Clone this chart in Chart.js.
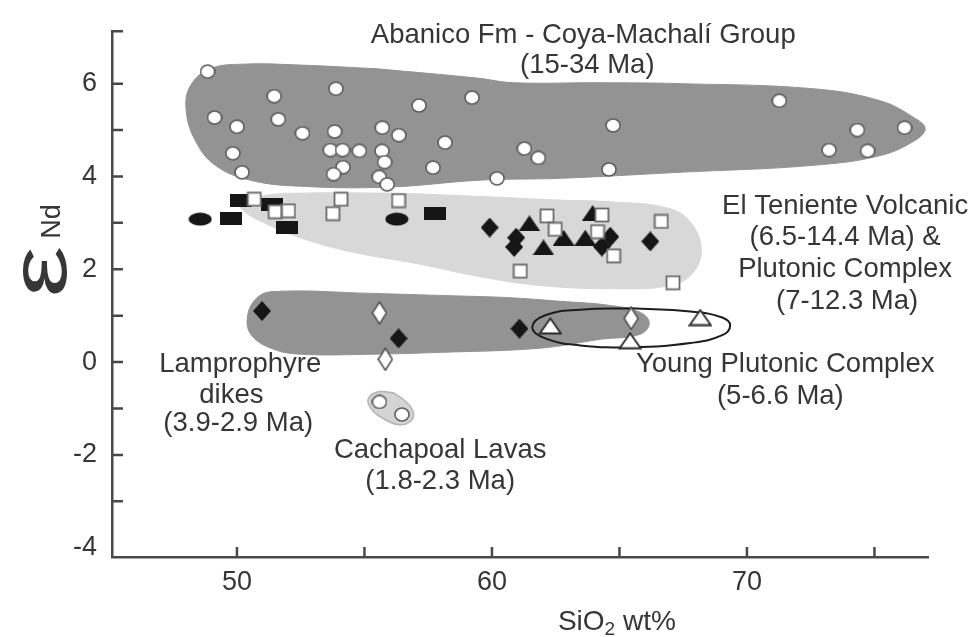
<!DOCTYPE html>
<html>
<head>
<meta charset="utf-8">
<script src="https://cdn.jsdelivr.net/npm/chart.js@4.4.1/dist/chart.umd.min.js"></script>
<style>
  html, body { margin: 0; padding: 0; background: #fff; }
</style>
</head>
<body>
<canvas id="chart" width="973" height="637"></canvas>
<script>
// samples: SiO2 (wt%) vs eNd
const abanicoSiO2  = [48.85, 51.46, 53.88, 57.14, 59.22, 49.12, 50.00, 51.62, 52.57, 53.83, 55.70, 56.35, 58.16, 49.84, 53.66, 54.14, 54.80, 55.69, 55.79, 50.20, 54.16, 53.79, 55.58, 55.89, 57.69, 60.20, 71.27, 64.75, 61.27, 61.82, 64.59, 74.33, 76.18, 73.22, 74.73];
const abanicoEpsNd = [6.26, 5.73, 5.89, 5.53, 5.70, 5.27, 5.07, 5.23, 4.93, 4.97, 5.05, 4.89, 4.73, 4.50, 4.57, 4.57, 4.55, 4.55, 4.31, 4.09, 4.20, 4.05, 3.99, 3.83, 4.19, 3.96, 5.63, 5.10, 4.60, 4.40, 4.15, 5.00, 5.05, 4.57, 4.55];

const ovalSiO2  = [48.56, 56.27];
const ovalEpsNd = [3.08, 3.08];

const rectSiO2  = [50.16, 49.76, 51.36, 51.96, 57.78];
const rectEpsNd = [3.48, 3.10, 3.39, 2.90, 3.21];

const squareSiO2  = [50.68, 51.50, 52.02, 54.08, 53.76, 56.34, 61.11, 62.16, 62.48, 64.31, 64.14, 64.77, 66.64, 67.10];
const squareEpsNd = [3.51, 3.24, 3.26, 3.51, 3.20, 3.48, 1.96, 3.15, 2.86, 3.17, 2.81, 2.29, 3.03, 1.71];

const diamondSiO2  = [59.91, 60.95, 60.87, 64.64, 64.31, 66.21, 50.98, 56.34, 61.08];
const diamondEpsNd = [2.90, 2.68, 2.48, 2.70, 2.49, 2.60, 1.10, 0.51, 0.72];

const triangleSiO2  = [61.47, 62.02, 62.81, 63.66, 63.95];
const triangleEpsNd = [2.99, 2.47, 2.68, 2.68, 3.21];

const openDiamondSiO2  = [55.59, 55.82, 65.46];
const openDiamondEpsNd = [1.06, 0.06, 0.94];

const openTriangleSiO2  = [62.29, 68.17, 65.42];
const openTriangleEpsNd = [0.78, 0.96, 0.46];

const cachapoalSiO2  = [55.59, 56.47];
const cachapoalEpsNd = [-0.86, -1.13];

// field outlines (closed)
const abanicoFieldX = [55.50, 59.42, 60.84, 64.25, 67.38, 72.60, 75.23, 76.60, 76.99, 76.60, 75.23, 72.60, 67.38, 62.68, 59.54, 55.89, 52.48, 50.52, 49.15, 48.36, 48.01, 48.17, 48.95, 50.25, 52.48, 55.50];
const abanicoFieldY = [6.32, 6.12, 6.02, 6.02, 6.00, 5.89, 5.63, 5.25, 5.03, 4.78, 4.45, 4.24, 4.09, 3.96, 3.92, 3.77, 3.79, 3.92, 4.24, 4.78, 5.42, 5.95, 6.32, 6.42, 6.40, 6.32];

const tenienteFieldX = [56.40, 60.33, 62.68, 64.76, 66.88, 67.78, 68.21, 67.86, 66.99, 64.76, 61.89, 59.54, 57.07, 54.44, 52.48, 50.99, 50.33, 50.13, 50.99, 52.48, 56.40];
const tenienteFieldY = [3.64, 3.55, 3.49, 3.45, 3.32, 3.02, 2.42, 1.91, 1.65, 1.58, 1.65, 1.84, 2.12, 2.38, 2.68, 3.02, 3.23, 3.40, 3.58, 3.64, 3.64];

const lamproFieldX = [55.35, 58.36, 60.60, 62.68, 64.64, 65.82, 66.17, 65.82, 64.25, 61.89, 57.97, 55.35, 52.48, 51.42, 50.60, 50.40, 50.72, 51.42, 55.35];
const lamproFieldY = [1.48, 1.43, 1.39, 1.31, 1.22, 1.07, 0.84, 0.60, 0.49, 0.30, 0.21, 0.17, 0.17, 0.28, 0.56, 0.92, 1.35, 1.52, 1.48];

const cachapoalFieldX = [56.13, 56.64, 56.92, 56.80, 56.33, 55.74, 55.27, 55.15, 55.54, 56.13];
const cachapoalFieldY = [-0.66, -0.86, -1.09, -1.28, -1.35, -1.22, -1.01, -0.79, -0.64, -0.66];

const youngFieldX = [65.46, 67.78, 69.03, 69.34, 69.03, 67.78, 65.46, 63.46, 62.09, 61.58, 62.09, 63.46, 65.46];
const youngFieldY = [1.16, 1.09, 0.96, 0.79, 0.58, 0.41, 0.32, 0.36, 0.51, 0.75, 1.01, 1.13, 1.16];

// axes
const xTickValues = [50, 55, 60, 65, 70, 75];
const yTickValues = [-4, -3, -2, -1, 0, 1, 2, 3, 4, 5, 6, 7.13];

function pts(xs, ys) {
  return xs.map((x, i) => ({ x: x, y: ys[i] }));
}

function marker(w, h, draw) {
  const c = document.createElement('canvas');
  c.width = w;
  c.height = h;
  draw(c.getContext('2d'), w, h);
  return c;
}

const INK = '#161616';

const whiteCircle = marker(16, 15, (g, w, h) => {
  g.fillStyle = '#fff';
  g.strokeStyle = '#5c5c5c';
  g.lineWidth = 1.6;
  g.beginPath();
  g.ellipse(w / 2, h / 2, w / 2 - 1, h / 2 - 1, 0, 0, Math.PI * 2);
  g.fill();
  g.stroke();
});
const blackRect = marker(22, 13, (g, w, h) => {
  g.fillStyle = INK;
  g.fillRect(0, 0, w, h);
});
const blackOval = marker(24, 14, (g, w, h) => {
  g.fillStyle = INK;
  g.beginPath();
  g.ellipse(w / 2, h / 2, w / 2 - 0.5, h / 2 - 0.5, 0, 0, Math.PI * 2);
  g.fill();
});
const whiteSquare = marker(16, 16, (g, w, h) => {
  g.fillStyle = '#fff';
  g.fillRect(1, 1, w - 2, h - 2);
  g.strokeStyle = '#6a6a6a';
  g.lineWidth = 1.8;
  g.strokeRect(1.5, 1.5, w - 3, h - 3);
});
const blackDiamond = marker(18, 20, (g, w, h) => {
  g.fillStyle = INK;
  g.beginPath();
  g.moveTo(w / 2, 0); g.lineTo(w, h / 2); g.lineTo(w / 2, h); g.lineTo(0, h / 2);
  g.closePath();
  g.fill();
});
const whiteDiamond = marker(16, 24, (g, w, h) => {
  g.fillStyle = '#fff';
  g.strokeStyle = '#555';
  g.lineWidth = 1.6;
  g.beginPath();
  g.moveTo(w / 2, 1); g.lineTo(w - 1, h / 2); g.lineTo(w / 2, h - 1); g.lineTo(1, h / 2);
  g.closePath();
  g.fill();
  g.stroke();
});
const blackTriangle = marker(22, 16, (g, w, h) => {
  g.fillStyle = INK;
  g.beginPath();
  g.moveTo(w / 2, 0); g.lineTo(w, h); g.lineTo(0, h);
  g.closePath();
  g.fill();
});
const whiteTriangle = marker(24, 18, (g, w, h) => {
  g.fillStyle = '#fff';
  g.strokeStyle = '#2a2a2a';
  g.lineWidth = 1.8;
  g.beginPath();
  g.moveTo(w / 2, 1.5); g.lineTo(w - 1.5, h - 1.5); g.lineTo(1.5, h - 1.5);
  g.closePath();
  g.fill();
  g.stroke();
});

function field(data, fillColor, order) {
  return {
    data: data,
    showLine: true,
    fill: 'shape',
    tension: 0.4,
    backgroundColor: fillColor,
    borderColor: fillColor,
    borderWidth: 1,
    pointRadius: 0,
    order: order
  };
}

function symbols(data, style) {
  return {
    data: data,
    pointStyle: style,
    pointRadius: 8,
    showLine: false,
    order: 1
  };
}

const FONT = '"Liberation Sans", Arial, sans-serif';
const TEXT = '#363636';

// text placed in data units so it follows the scales
const notes = [
  ['Abanico Fm - Coya-Machalí Group', 63.58, 7.03],
  ['(15-34 Ma)', 63.74, 6.40],
  ['El Teniente Volcanic', 73.85, 3.36],
  ['(6.5-14.4 Ma) &', 73.85, 2.68],
  ['Plutonic Complex', 73.85, 1.99],
  ['(7-12.3 Ma)', 73.93, 1.31],
  ['Young Plutonic Complex', 71.50, -0.06],
  ['(5-6.6 Ma)', 71.31, -0.75],
  ['Lamprophyre', 50.13, -0.06],
  ['dikes', 49.78, -0.71],
  ['(3.9-2.9 Ma)', 50.05, -1.33],
  ['Cachapoal Lavas', 57.97, -1.91],
  ['(1.8-2.3 Ma)', 57.97, -2.57]
];

const decorations = {
  id: 'decorations',
  afterDraw(chart) {
    const { ctx, chartArea: a, scales: { x, y } } = chart;
    ctx.save();

    // inward tick marks
    ctx.strokeStyle = '#484848';
    ctx.lineWidth = 2.5;
    ctx.beginPath();
    x.ticks.forEach(t => {
      const px = x.getPixelForValue(t.value);
      ctx.moveTo(px, a.bottom);
      ctx.lineTo(px, a.bottom - 10);
    });
    y.ticks.forEach(t => {
      const py = y.getPixelForValue(t.value);
      if (a.bottom - py < 12) return;
      ctx.moveTo(a.left, py);
      ctx.lineTo(a.left + 11, py);
    });
    ctx.stroke();

    // field labels
    ctx.fillStyle = TEXT;
    ctx.textAlign = 'center';
    ctx.textBaseline = 'middle';
    ctx.font = '27.5px ' + FONT;
    notes.forEach(([s, vx, vy]) => {
      ctx.fillText(s, x.getPixelForValue(vx), y.getPixelForValue(vy));
    });

    // x axis title: SiO2 wt%
    const tx = x.getPixelForValue(64.9);
    const ty = a.bottom + 65;
    ctx.textAlign = 'left';
    ctx.font = '28px ' + FONT;
    const w1 = ctx.measureText('SiO').width;
    ctx.font = '19px ' + FONT;
    const w2 = ctx.measureText('2').width;
    ctx.font = '28px ' + FONT;
    const w3 = ctx.measureText(' wt%').width;
    const sx = tx - (w1 + w2 + w3) / 2;
    ctx.fillText('SiO', sx, ty);
    ctx.font = '19px ' + FONT;
    ctx.fillText('2', sx + w1, ty + 8);
    ctx.font = '28px ' + FONT;
    ctx.fillText(' wt%', sx + w1 + w2, ty);

    // y axis title: eNd, rotated
    ctx.translate(66, y.getPixelForValue(1.95));
    ctx.rotate(-Math.PI / 2);
    ctx.textBaseline = 'alphabetic';
    ctx.save();
    ctx.scale(1.45, 1);
    ctx.font = '80px ' + FONT;
    const we = ctx.measureText('ε').width;
    ctx.fillText('ε', -we / 2, 0);
    ctx.restore();
    ctx.font = '27px ' + FONT;
    const wn = ctx.measureText('Nd').width;
    ctx.fillText('Nd', 50 - wn / 2, -6);

    ctx.restore();
  }
};

new Chart(document.getElementById('chart'), {
  type: 'scatter',
  data: {
    datasets: [
      symbols(pts(abanicoSiO2, abanicoEpsNd), whiteCircle),
      symbols(pts(squareSiO2, squareEpsNd), whiteSquare),
      symbols(pts(rectSiO2, rectEpsNd), blackRect),
      symbols(pts(ovalSiO2, ovalEpsNd), blackOval),
      symbols(pts(diamondSiO2, diamondEpsNd), blackDiamond),
      symbols(pts(triangleSiO2, triangleEpsNd), blackTriangle),
      symbols(pts(openTriangleSiO2, openTriangleEpsNd), whiteTriangle),
      symbols(pts(openDiamondSiO2, openDiamondEpsNd), whiteDiamond),
      symbols(pts(cachapoalSiO2, cachapoalEpsNd), whiteCircle),
      {
        data: pts(youngFieldX, youngFieldY),
        showLine: true,
        fill: false,
        tension: 0.45,
        borderColor: '#1c1c1c',
        borderWidth: 2,
        pointRadius: 0,
        order: 5
      },
      field(pts(abanicoFieldX, abanicoFieldY), '#939393', 10),
      field(pts(tenienteFieldX, tenienteFieldY), '#d8d8d8', 10),
      field(pts(lamproFieldX, lamproFieldY), '#939393', 10),
      Object.assign(field(pts(cachapoalFieldX, cachapoalFieldY), '#d4d4d4', 10), { borderColor: '#b4b4b4', borderWidth: 1.5 })
    ]
  },
  options: {
    responsive: false,
    animation: false,
    events: [],
    layout: { padding: { left: 0, right: 45, top: 31, bottom: 0 } },
    plugins: {
      legend: { display: false },
      tooltip: { enabled: false }
    },
    scales: {
      x: {
        type: 'linear',
        min: 45.1,
        max: 77.1,
        afterBuildTicks: s => { s.ticks = xTickValues.map(v => ({ value: v })); },
        afterFit: s => { s.height = 80; },
        grid: { display: false, drawTicks: false },
        border: { display: true, color: '#4a4a4a', width: 2.5 },
        ticks: {
          padding: 9,
          maxRotation: 0,
          autoSkip: false,
          color: TEXT,
          font: { family: FONT, size: 27 },
          callback: v => (v % 10 === 0 ? String(v) : '')
        }
      },
      y: {
        type: 'linear',
        min: -4.2,
        max: 7.13,
        afterBuildTicks: s => { s.ticks = yTickValues.map(v => ({ value: v })); },
        afterFit: s => { s.width = 112; },
        grid: { display: false, drawTicks: false },
        border: { display: true, color: '#4a4a4a', width: 2.5 },
        ticks: {
          padding: 15,
          autoSkip: false,
          color: TEXT,
          font: { family: FONT, size: 27 },
          callback: v => (Number.isInteger(v) && v % 2 === 0 ? String(v) : '')
        }
      }
    }
  },
  plugins: [decorations]
});
</script>
</body>
</html>
